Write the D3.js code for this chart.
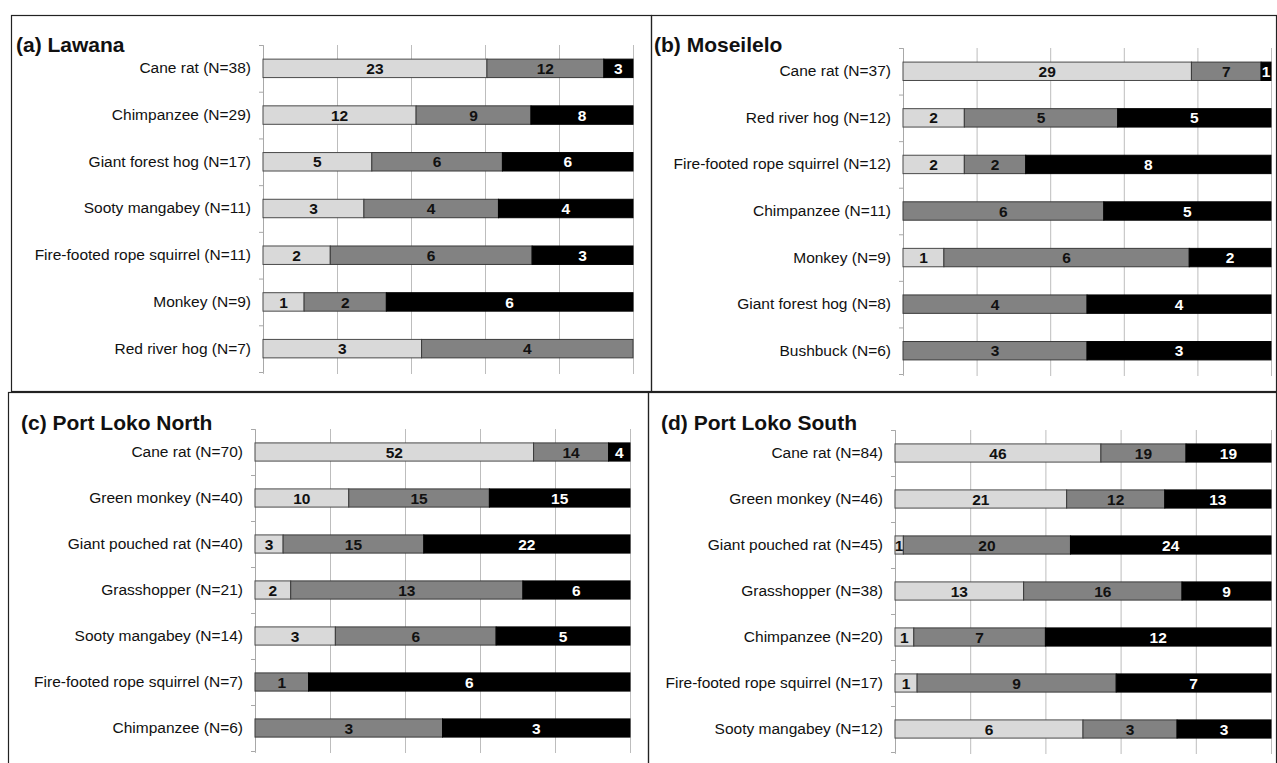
<!DOCTYPE html>
<html>
<head>
<meta charset="utf-8">
<script src="https://cdn.jsdelivr.net/npm/d3@7"></script>
<style>
  html, body { margin: 0; padding: 0; background: #fff; }
  svg { display: block; font-family: "Liberation Sans", Arial, sans-serif; }
</style>
</head>
<body>
<svg id="chart" width="1277" height="763"></svg>
<script>
// ---- Data: counts per species in three ordered classes (light, mid, dark) ----
const lawanaSpecies = ["Cane rat", "Chimpanzee", "Giant forest hog", "Sooty mangabey", "Fire-footed rope squirrel", "Monkey", "Red river hog"];
const lawanaLight = [23, 12, 5, 3, 2, 1, 3];
const lawanaMid   = [12, 9, 6, 4, 6, 2, 4];
const lawanaDark  = [3, 8, 6, 4, 3, 6, 0];

const moseileloSpecies = ["Cane rat", "Red river hog", "Fire-footed rope squirrel", "Chimpanzee", "Monkey", "Giant forest hog", "Bushbuck"];
const moseileloLight = [29, 2, 2, 0, 1, 0, 0];
const moseileloMid   = [7, 5, 2, 6, 6, 4, 3];
const moseileloDark  = [1, 5, 8, 5, 2, 4, 3];

const northSpecies = ["Cane rat", "Green monkey", "Giant pouched rat", "Grasshopper", "Sooty mangabey", "Fire-footed rope squirrel", "Chimpanzee"];
const northLight = [52, 10, 3, 2, 3, 0, 0];
const northMid   = [14, 15, 15, 13, 6, 1, 3];
const northDark  = [4, 15, 22, 6, 5, 6, 3];

const southSpecies = ["Cane rat", "Green monkey", "Giant pouched rat", "Grasshopper", "Chimpanzee", "Fire-footed rope squirrel", "Sooty mangabey"];
const southLight = [46, 21, 1, 13, 1, 1, 6];
const southMid   = [19, 12, 20, 16, 7, 9, 3];
const southDark  = [19, 13, 24, 9, 12, 7, 3];

const panelTitles = ["(a) Lawana", "(b) Moseilelo", "(c) Port Loko North", "(d) Port Loko South"];
const gridTicks = [0, 0.2, 0.4, 0.6, 0.8, 1];

// ---- Layout of the four panels ----
const layouts = [
  { box: [11, 15, 640, 376],  title: [16, 52],   x0: 263, x1: 633,  yTop: 45,  yBot: 372 },
  { box: [651, 15, 625, 376], title: [654, 52],  x0: 903, x1: 1271, yTop: 48,  yBot: 374 },
  { box: [8, 392, 640, 380],  title: [21, 430],  x0: 255, x1: 630,  yTop: 429, yBot: 751 },
  { box: [648, 392, 628, 380],title: [661, 430], x0: 895, x1: 1271, yTop: 430, yBot: 752 }
];

const panelData = [
  [lawanaSpecies, lawanaLight, lawanaMid, lawanaDark],
  [moseileloSpecies, moseileloLight, moseileloMid, moseileloDark],
  [northSpecies, northLight, northMid, northDark],
  [southSpecies, southLight, southMid, southDark]
];

const keys = ["light", "mid", "dark"];
const fills = { light: "#d9d9d9", mid: "#828282", dark: "#000000" };
const textFill = { light: "#111", mid: "#111", dark: "#fff" };
const strokes = { light: "#4a4a4a", mid: "#3a3a3a", dark: "#000" };

const svg = d3.select("#chart");

panelData.forEach((pd, i) => {
  const [species, light, mid, dark] = pd;
  const L = layouts[i];
  const rows = species.map((s, j) => ({
    name: s,
    light: light[j], mid: mid[j], dark: dark[j],
    n: light[j] + mid[j] + dark[j]
  }));
  rows.forEach(r => { r.label = `${r.name} (N=${r.n})`; });

  const g = svg.append("g");

  // panel frame
  g.append("rect")
    .attr("x", L.box[0] + 0.5).attr("y", L.box[1] + 0.5)
    .attr("width", L.box[2]).attr("height", L.box[3])
    .attr("fill", "none").attr("stroke", "#222").attr("stroke-width", 1.2);

  // title
  g.append("text")
    .attr("x", L.title[0]).attr("y", L.title[1])
    .attr("font-size", 21).attr("font-weight", "bold")
    .attr("fill", "#111")
    .text(panelTitles[i]);

  const x = d3.scaleLinear().domain([0, 1]).range([L.x0, L.x1]);
  const y = d3.scaleBand().domain(rows.map(r => r.label))
    .range([L.yTop, L.yBot]).paddingInner(0.605).paddingOuter(0.3025);

  // vertical gridlines
  const grid = g.append("g")
    .attr("transform", `translate(0,${L.yBot + 2})`)
    .call(d3.axisBottom(x).tickValues(gridTicks).tickSize(-(L.yBot - L.yTop + 2)).tickFormat(""));
  grid.select(".domain").remove();
  grid.selectAll(".tick line").attr("stroke", "#bdbdbd").attr("stroke-width", 1);

  // left axis with ticks at row boundaries
  const edge = d3.scaleLinear().domain([0, rows.length]).range([L.yTop, L.yBot]);
  const yAx = g.append("g")
    .attr("transform", `translate(${L.x0},0)`)
    .call(d3.axisLeft(edge).tickValues(d3.range(rows.length + 1)).tickSize(4).tickSizeOuter(0).tickFormat(""));
  yAx.select(".domain").attr("stroke", "#a8a8a8");
  yAx.selectAll(".tick line").attr("stroke", "#a8a8a8");

  // category labels
  const lab = g.append("g")
    .attr("transform", `translate(${L.x0},0)`)
    .call(d3.axisLeft(y).tickSize(0).tickPadding(12));
  lab.select(".domain").remove();
  lab.selectAll("text").attr("font-size", 15.5).attr("fill", "#111")
    .attr("font-family", "'Liberation Sans', Arial, sans-serif");

  // stacked 100% bars
  const series = d3.stack().keys(keys).offset(d3.stackOffsetExpand)(rows);
  series.forEach(s => {
    const k = s.key;
    const segs = s.map(d => ({ x0: d[0], x1: d[1], v: d.data[k], row: d.data })).filter(d => d.v > 0);
    g.append("g").selectAll("rect").data(segs).join("rect")
      .attr("x", d => x(d.x0)).attr("y", d => y(d.row.label))
      .attr("width", d => x(d.x1) - x(d.x0)).attr("height", y.bandwidth())
      .attr("fill", fills[k]).attr("stroke", strokes[k]).attr("stroke-width", 1);
    g.append("g").selectAll("text").data(segs).join("text")
      .attr("x", d => (x(d.x0) + x(d.x1)) / 2)
      .attr("y", d => y(d.row.label) + y.bandwidth() / 2)
      .attr("dy", "0.36em")
      .attr("text-anchor", "middle")
      .attr("font-size", 15.5).attr("font-weight", "bold")
      .attr("fill", textFill[k])
      .text(d => d.v);
  });
});
</script>
</body>
</html>
